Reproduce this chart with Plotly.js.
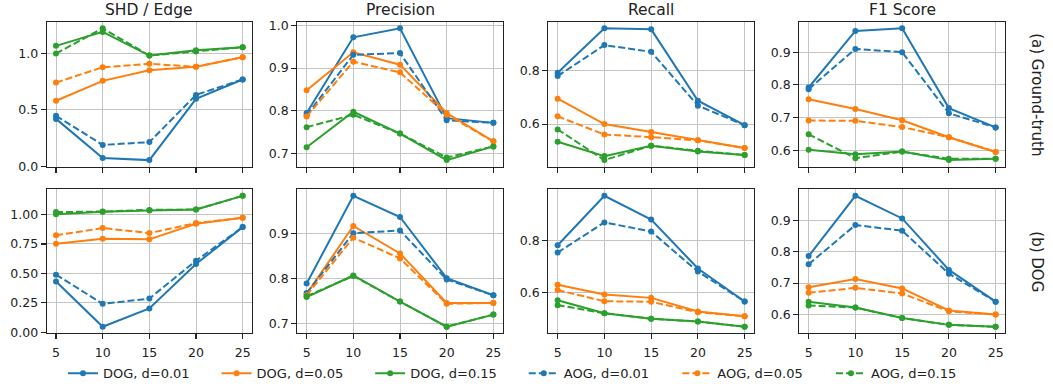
<!DOCTYPE html>
<html>
<head>
<meta charset="utf-8">
<script src="https://cdn.plot.ly/plotly-3.0.1.min.js"></script>
<style>html,body{margin:0;padding:0;background:#fff}#chart{width:1053px;height:392px}</style>
</head>
<body>
<div id="chart"></div>
<script>
// ---- data ----
const xValues = [5, 10, 15, 20, 25];
const seriesNames = ["DOG, d=0.01", "DOG, d=0.05", "DOG, d=0.15", "AOG, d=0.01", "AOG, d=0.05", "AOG, d=0.15"];
const columnTitles = ["SHD / Edge", "Precision", "Recall", "F1 Score"];
const rowLabels = ["(a) Ground-truth", "(b) DOG"];

// Row (a) Ground-truth — order follows seriesNames
const gtShd = [
  [0.42, 0.074, 0.056, 0.597, 0.768],
  [0.58, 0.756, 0.85, 0.88, 0.965],
  [1.065, 1.188, 0.979, 1.026, 1.053],
  [0.447, 0.19, 0.215, 0.632, 0.768],
  [0.741, 0.876, 0.906, 0.88, 0.965],
  [0.997, 1.22, 0.979, 1.015, 1.053]
];
const gtPrecision = [
  [0.795, 0.972, 0.993, 0.783, 0.772],
  [0.848, 0.937, 0.908, 0.795, 0.729],
  [0.715, 0.798, 0.747, 0.685, 0.717],
  [0.79, 0.931, 0.935, 0.778, 0.772],
  [0.787, 0.915, 0.89, 0.791, 0.729],
  [0.762, 0.791, 0.747, 0.691, 0.717]
];
const gtRecall = [
  [0.7925, 0.959, 0.955, 0.6875, 0.596],
  [0.695, 0.6, 0.57, 0.539, 0.51],
  [0.534, 0.48, 0.519, 0.4975, 0.484],
  [0.78, 0.896, 0.871, 0.669, 0.596],
  [0.629, 0.561, 0.551, 0.539, 0.51],
  [0.58, 0.465, 0.519, 0.5, 0.484]
];
const gtF1 = [
  [0.792, 0.965, 0.973, 0.729, 0.67],
  [0.756, 0.726, 0.692, 0.64, 0.595],
  [0.602, 0.588, 0.596, 0.57, 0.574],
  [0.787, 0.91, 0.9, 0.713, 0.67],
  [0.691, 0.69, 0.671, 0.64, 0.595],
  [0.649, 0.576, 0.596, 0.574, 0.574]
];
// Row (b) DOG
const dogShd = [
  [0.431, 0.048, 0.203, 0.58, 0.893],
  [0.752, 0.794, 0.789, 0.921, 0.972],
  [1.003, 1.023, 1.034, 1.042, 1.158],
  [0.49, 0.242, 0.287, 0.608, 0.893],
  [0.823, 0.885, 0.842, 0.927, 0.972],
  [1.02, 1.025, 1.039, 1.042, 1.158]
];
const dogPrecision = [
  [0.789, 0.984, 0.937, 0.801, 0.763],
  [0.766, 0.917, 0.856, 0.746, 0.746],
  [0.759, 0.807, 0.749, 0.693, 0.72],
  [0.768, 0.901, 0.907, 0.798, 0.763],
  [0.763, 0.891, 0.845, 0.744, 0.746],
  [0.761, 0.806, 0.749, 0.693, 0.72]
];
const dogRecall = [
  [0.783, 0.973, 0.882, 0.694, 0.567],
  [0.631, 0.594, 0.581, 0.529, 0.51],
  [0.572, 0.522, 0.501, 0.49, 0.47],
  [0.755, 0.871, 0.836, 0.682, 0.567],
  [0.611, 0.568, 0.566, 0.526, 0.51],
  [0.553, 0.522, 0.501, 0.49, 0.47]
];
const dogF1 = [
  [0.786, 0.978, 0.906, 0.742, 0.641],
  [0.687, 0.713, 0.683, 0.613, 0.6],
  [0.641, 0.622, 0.589, 0.567, 0.561],
  [0.76, 0.885, 0.867, 0.73, 0.641],
  [0.669, 0.685, 0.667, 0.61, 0.6],
  [0.629, 0.622, 0.589, 0.567, 0.561]
];

// ---- styling ----
const colors = ["#1f77b4", "#ff7f0e", "#2ca02c", "#1f77b4", "#ff7f0e", "#2ca02c"];
const dashes = ["solid", "solid", "solid", "7px,3px", "7px,3px", "7px,3px"];
const panels = [gtShd, gtPrecision, gtRecall, gtF1, dogShd, dogPrecision, dogRecall, dogF1];
const tickSpecs = [
  {dtick: 0.5, fmt: ".1f"}, {dtick: 0.1, fmt: ".1f"}, {dtick: 0.2, fmt: ".1f"}, {dtick: 0.1, fmt: ".1f"},
  {dtick: 0.25, fmt: ".2f"}, {dtick: 0.1, fmt: ".1f"}, {dtick: 0.2, fmt: ".1f"}, {dtick: 0.1, fmt: ".1f"}
];

const W = 1053, H = 392;
const colPx = [[46.7, 252], [297.3, 502.7], [548.3, 754], [799.3, 1005]];
const rowPx = [[21.7, 166.7], [189.3, 333.3]];
const FONT = "DejaVu Sans, sans-serif";

function padRange(vals) {
  const mn = Math.min(...vals), mx = Math.max(...vals);
  const s = mx - mn;
  return [mn - 0.05 * s, mx + 0.05 * s];
}

const traces = [];
const layout = {
  width: W, height: H,
  margin: {l: 0, r: 0, t: 0, b: 0},
  paper_bgcolor: "#fff", plot_bgcolor: "#fff",
  font: {family: FONT, size: 12.5, color: "#222"},
  showlegend: true,
  legend: {
    orientation: "h", x: 0.0598, xanchor: "left", y: 0.048, yanchor: "middle",
    font: {family: FONT, size: 13, color: "#222"},
    entrywidth: 108.6, entrywidthmode: "pixels", tracegroupgap: 0,
    bgcolor: "rgba(0,0,0,0)"
  },
  annotations: []
};

panels.forEach((panel, p) => {
  const row = Math.floor(p / 4), col = p % 4;
  const ax = p === 0 ? "" : String(p + 1);
  const xr = padRange(xValues);
  const yr = padRange(panel.flat());
  const common = {
    showline: true, mirror: true, linecolor: "#222", linewidth: 1.1,
    showgrid: true, gridcolor: "#c4c4c4", gridwidth: 1,
    zeroline: false, ticks: "outside", ticklen: 5, tickwidth: 1.1, tickcolor: "#222",
    tickfont: {family: FONT, size: 12.5, color: "#222"}
  };
  layout["xaxis" + ax] = Object.assign({}, common, {
    domain: [colPx[col][0] / W, colPx[col][1] / W],
    anchor: "y" + ax, range: xr, tickvals: xValues,
    showticklabels: row === 1, ticklabelstandoff: 3
  });
  layout["yaxis" + ax] = Object.assign({}, common, {
    domain: [1 - rowPx[row][1] / H, 1 - rowPx[row][0] / H],
    anchor: "x" + ax, range: yr,
    tick0: 0, dtick: tickSpecs[p].dtick, tickformat: tickSpecs[p].fmt
  });
  panel.forEach((vals, s) => {
    traces.push({
      type: "scatter", mode: "lines+markers",
      x: xValues, y: vals,
      xaxis: "x" + ax, yaxis: "y" + ax,
      name: seriesNames[s],
      showlegend: p === 0,
      line: {color: colors[s], width: 2, dash: dashes[s]},
      marker: {color: colors[s], size: 6},
      cliponaxis: false
    });
  });
});

columnTitles.forEach((t, c) => {
  layout.annotations.push({
    text: t, xref: "paper", yref: "paper",
    x: (colPx[c][0] + colPx[c][1]) / 2 / W, y: 1 - rowPx[0][0] / H,
    xanchor: "center", yanchor: "bottom", yshift: 1, showarrow: false,
    font: {family: FONT, size: 15.5, color: "#222"}
  });
});
rowLabels.forEach((t, r) => {
  layout.annotations.push({
    text: t, xref: "paper", yref: "paper",
    x: 1037 / W, y: 1 - (rowPx[r][0] + rowPx[r][1]) / 2 / H,
    xanchor: "center", yanchor: "middle", textangle: 90, showarrow: false,
    font: {family: FONT, size: 15, color: "#222"}
  });
});

Plotly.newPlot("chart", traces, layout, {displayModeBar: false, staticPlot: true});
</script>
</body>
</html>
